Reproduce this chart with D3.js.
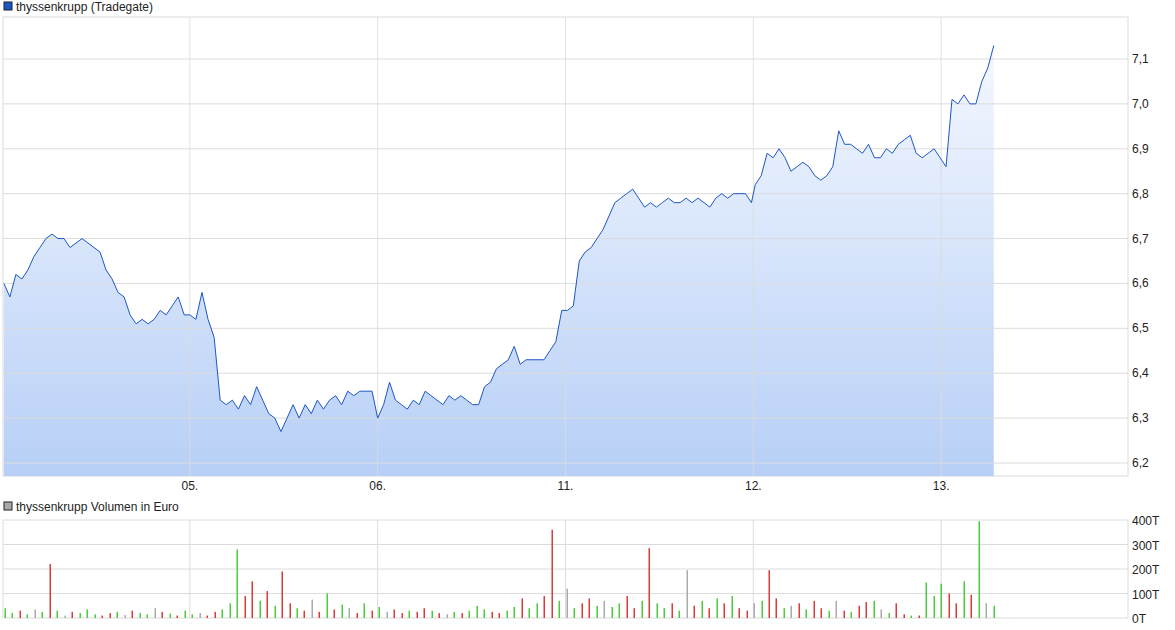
<!DOCTYPE html>
<html><head><meta charset="utf-8">
<script src="https://cdn.jsdelivr.net/npm/d3@7"></script>
<style>body{margin:0;background:#fff;font-family:"Liberation Sans",Arial,sans-serif}</style>
</head><body><svg id="c" width="1175" height="630"></svg>
<script>
const dayLabels = ["05.", "06.", "11.", "12.", "13."];
const priceTicks = [6.2, 6.3, 6.4, 6.5, 6.6, 6.7, 6.8, 6.9, 7.0, 7.1];
const volTicks = [0, 100, 200, 300, 400];
// prices per trading session (evenly spaced within the session)
const day0 = [6.60,6.57,6.62,6.61,6.63,6.66,6.68,6.70,6.71,6.70,6.70,6.68,6.69,6.70,6.69,6.68,6.67,6.63,6.61,6.58,6.57,6.53,6.51,6.52,6.51,6.52,6.54,6.53,6.55,6.57,6.53];
const day1 = [6.53,6.52,6.58,6.52,6.48,6.34,6.33,6.34,6.32,6.35,6.33,6.37,6.34,6.31,6.30,6.27,6.30,6.33,6.30,6.33,6.31,6.34,6.32,6.34,6.35,6.33,6.36,6.35,6.36,6.36,6.36];
const day2 = [6.30,6.33,6.38,6.34,6.33,6.32,6.34,6.33,6.36,6.35,6.34,6.33,6.35,6.34,6.35,6.34,6.33,6.33,6.37,6.38,6.41,6.42,6.43,6.46,6.42,6.43,6.43,6.43,6.43,6.45,6.47,6.54];
const day3 = [6.54,6.55,6.65,6.67,6.68,6.70,6.72,6.75,6.78,6.79,6.80,6.81,6.79,6.77,6.78,6.77,6.78,6.79,6.78,6.78,6.79,6.78,6.79,6.78,6.77,6.79,6.80,6.79,6.80,6.80,6.80,6.78];
const day4 = [6.82,6.84,6.89,6.88,6.90,6.88,6.85,6.86,6.87,6.86,6.84,6.83,6.84,6.86,6.94,6.91,6.91,6.90,6.89,6.91,6.88,6.88,6.90,6.89,6.91,6.92,6.93,6.89,6.88,6.89,6.90,6.88,6.86,7.01,7.00,7.02,7.00,7.00,7.05,7.08,7.13];
// volume in thousand euro, with colour code g/r/n
const volumes = [40,20,30,15,35,25,220,30,10,25,20,35,15,10,20,25,12,30,20,15,40,25,18,10,30,15,20,10,25,35,60,280,90,150,70,110,50,190,60,40,30,75,25,100,35,55,40,20,60,30,45,25,35,20,30,25,40,30,20,15,25,20,30,50,35,25,20,30,45,80,40,60,90,360,70,120,40,60,80,50,70,45,60,90,40,70,285,60,40,60,30,195,50,70,40,80,60,90,40,30,60,70,195,80,40,50,60,35,70,40,30,70,30,25,50,65,70,35,20,60,15,10,10,145,90,140,100,60,150,95,395,60,50];
const volColors = "ggrgngrgnrgggrrgnrggnrgrggnrrgggrrgrgrrgrnrgrgnrgrgnrrgrrgrngrgggrrggrggrrgngrrgnggrrgrggrgnrgrgrgrrngrrgnrgrrgnrgrrgngrrgrgggrrgrgngggg";

const svg = d3.select("#c");
const L = 3, R = 1128, T = 17, B = 476;
const x = d3.scaleLinear().domain([-1, 5]).range([L - 1, R + 1]);
const y = d3.scaleLinear().domain([6.2, 7.1]).range([463, 59]);

const days = [day0, day1, day2, day3, day4];
const spans = [[0.01, 0.97], [0, 0.97], [0, 0.98], [0.01, 0.99], [0.01, 1.28]];
const pts = [];
days.forEach((arr, i) => {
  const d0 = i - 1;
  arr.forEach((v, j) => pts.push({t: d0 + spans[i][0] + (spans[i][1] - spans[i][0]) * j / (arr.length - 1), v}));
});

const grid = "#dcdcdc";
const defs = svg.append("defs");
const gr = defs.append("linearGradient").attr("id", "ga").attr("x1", 0).attr("y1", 0).attr("x2", 0).attr("y2", 1);
gr.append("stop").attr("offset", 0).attr("stop-color", "#f4f8ff");
gr.append("stop").attr("offset", 1).attr("stop-color", "#b7cff6");

// price panel
svg.append("rect").attr("x", L).attr("y", T).attr("width", R - L).attr("height", B - T).attr("fill", "none").attr("stroke", grid);
svg.append("path").datum(pts).attr("fill", "url(#ga)")
  .attr("d", d3.area().x(d => x(d.t)).y0(B).y1(d => y(d.v)));
svg.append("g").selectAll("line").data(priceTicks).join("line")
  .attr("x1", L).attr("x2", R).attr("y1", d => y(d)).attr("y2", d => y(d)).attr("stroke", grid);
svg.append("g").selectAll("line").data(dayLabels).join("line")
  .attr("x1", (d, i) => x(i)).attr("x2", (d, i) => x(i)).attr("y1", T).attr("y2", B).attr("stroke", grid).attr("opacity", 0.8);
svg.append("path").datum(pts).attr("fill", "none").attr("stroke", "#1d56c4").attr("stroke-width", 1)
  .attr("d", d3.line().x(d => x(d.t)).y(d => y(d.v)));
svg.append("g").selectAll("text").data(priceTicks).join("text")
  .attr("x", R + 4).attr("y", d => y(d) + 4).attr("font-size", 12).attr("fill", "#222")
  .text(d => d3.format(".1f")(d).replace(".", ","));
svg.append("g").selectAll("text").data(dayLabels).join("text")
  .attr("x", (d, i) => x(i)).attr("y", 490).attr("text-anchor", "middle").attr("font-size", 12).attr("fill", "#222").text(d => d);

svg.append("rect").attr("x", 4).attr("y", 2).attr("width", 8).attr("height", 8).attr("fill", "#1d56c4").attr("stroke", "#222");
svg.append("text").attr("x", 16).attr("y", 11).attr("font-size", 12).attr("fill", "#222").text("thyssenkrupp (Tradegate)");

// volume panel
const VT = 520, VB = 618;
const yv = d3.scaleLinear().domain([0, 400]).range([VB, VT]);
svg.append("g").selectAll("line").data(volTicks).join("line")
  .attr("x1", L).attr("x2", R).attr("y1", d => yv(d)).attr("y2", d => yv(d)).attr("stroke", grid);
svg.append("line").attr("x1", R).attr("x2", R).attr("y1", VT).attr("y2", VB).attr("stroke", grid);
svg.append("line").attr("x1", L).attr("x2", L).attr("y1", VT).attr("y2", VB).attr("stroke", grid);
svg.append("g").selectAll("line").data(dayLabels).join("line")
  .attr("x1", (d, i) => x(i)).attr("x2", (d, i) => x(i)).attr("y1", VT).attr("y2", VB).attr("stroke", grid);
const tv = d3.scaleLinear().domain([0, volumes.length - 1]).range([-0.985, 4.28]);
const cmap = {g: "#4ccc3c", r: "#d83c3c", n: "#aaaaaa"};
svg.append("g").selectAll("rect").data(volumes).join("rect")
  .attr("x", (d, i) => Math.round(x(tv(i))) - 0.5).attr("width", 1.5)
  .attr("y", d => yv(d)).attr("height", d => VB - yv(d))
  .attr("fill", (d, i) => cmap[volColors[i] || "g"]);
svg.append("g").selectAll("text").data(volTicks).join("text")
  .attr("x", R + 4).attr("y", d => yv(d) + 5).attr("font-size", 12).attr("fill", "#222").text(d => d + "T");
svg.append("rect").attr("x", 4).attr("y", 502).attr("width", 8).attr("height", 8).attr("fill", "#aaa").attr("stroke", "#222");
svg.append("text").attr("x", 16).attr("y", 511).attr("font-size", 12).attr("fill", "#222").text("thyssenkrupp Volumen in Euro");
</script></body></html>
